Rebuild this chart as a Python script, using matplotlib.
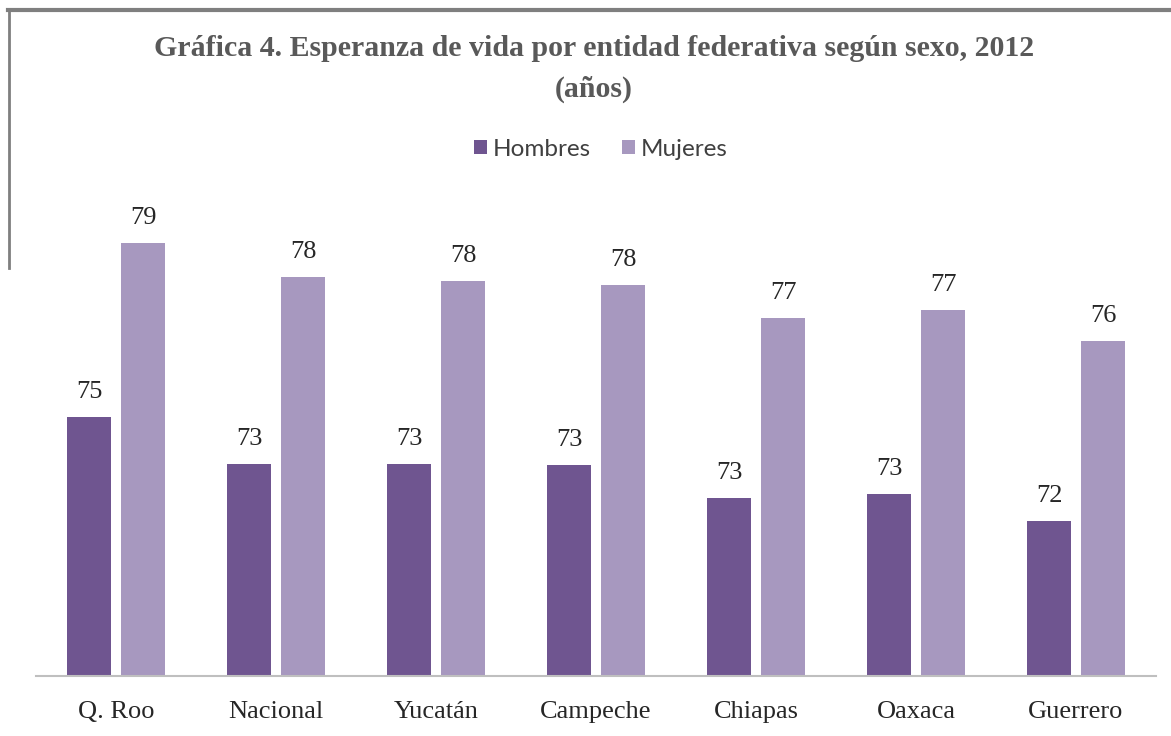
import matplotlib.pyplot as plt
import numpy as np
from matplotlib.lines import Line2D

# datos (años)
entidades = ['Q. Roo', 'Nacional', 'Yucatán', 'Campeche', 'Chiapas', 'Oaxaca', 'Guerrero']
hombres = [74.57, 73.48, 73.48, 73.46, 72.69, 72.78, 72.15]
mujeres = [78.62, 77.83, 77.74, 77.64, 76.88, 77.06, 76.34]

c_h = '#6f5590'
c_m = '#a798bf'

fig = plt.figure(figsize=(11.71, 7.36), dpi=100)
ax = fig.add_axes([36/1171, 1-676/736, 1120/1171, 476/736])

x = np.arange(len(entidades))
w = 0.275
off = w/2 + 0.03125
b1 = ax.bar(x - off, hombres, w, color=c_h, label='Hombres')
b2 = ax.bar(x + off, mujeres, w, color=c_m, label='Mujeres')

ymin = 68.55
ax.set_ylim(ymin, ymin + 476/43)
ax.set_xlim(-0.5, len(entidades) - 0.5)
for b in (b1, b2):
    ax.bar_label(b, fmt='%.0f', padding=10, fontsize=19, family='Liberation Serif', color='#262626')

ax.set_xticks(x)
ax.set_xticklabels(entidades, family='Liberation Serif', fontsize=19, color='#262626')
ax.tick_params(axis='x', length=0, pad=18)
ax.set_yticks([])
for s in ['top', 'right', 'left']:
    ax.spines[s].set_visible(False)
ax.spines['bottom'].set_color('#bfbfbf')
ax.spines['bottom'].set_linewidth(1.5)

fig.text(594/1171, 1-48/736, 'Gráfica 4. Esperanza de vida por entidad federativa según sexo, 2012',
         ha='center', va='center', family='Liberation Serif', fontsize=21.5, fontweight='bold', color='#595959')
fig.text(594/1171, 1-89/736, '(años)', ha='center', va='center', family='Liberation Serif',
         fontsize=21.5, fontweight='bold', color='#595959')

fig.legend(loc='center', bbox_to_anchor=(601/1171, 1-149/736), ncol=2, frameon=False,
           prop={'family': 'Lato', 'size': 17.5}, handlelength=0.5, handleheight=0.5,
           handletextpad=0.25, columnspacing=1.3, labelcolor='#404040')

# marco de la imagen
fig.add_artist(Line2D([8/1171, 1], [1-10/736, 1-10/736], color='#7f7f7f', lw=3))
fig.add_artist(Line2D([9/1171, 9/1171], [1-10/736, 1-268/736], color='#7f7f7f', lw=2))

fig.savefig('out.png', dpi=100, facecolor='white')
